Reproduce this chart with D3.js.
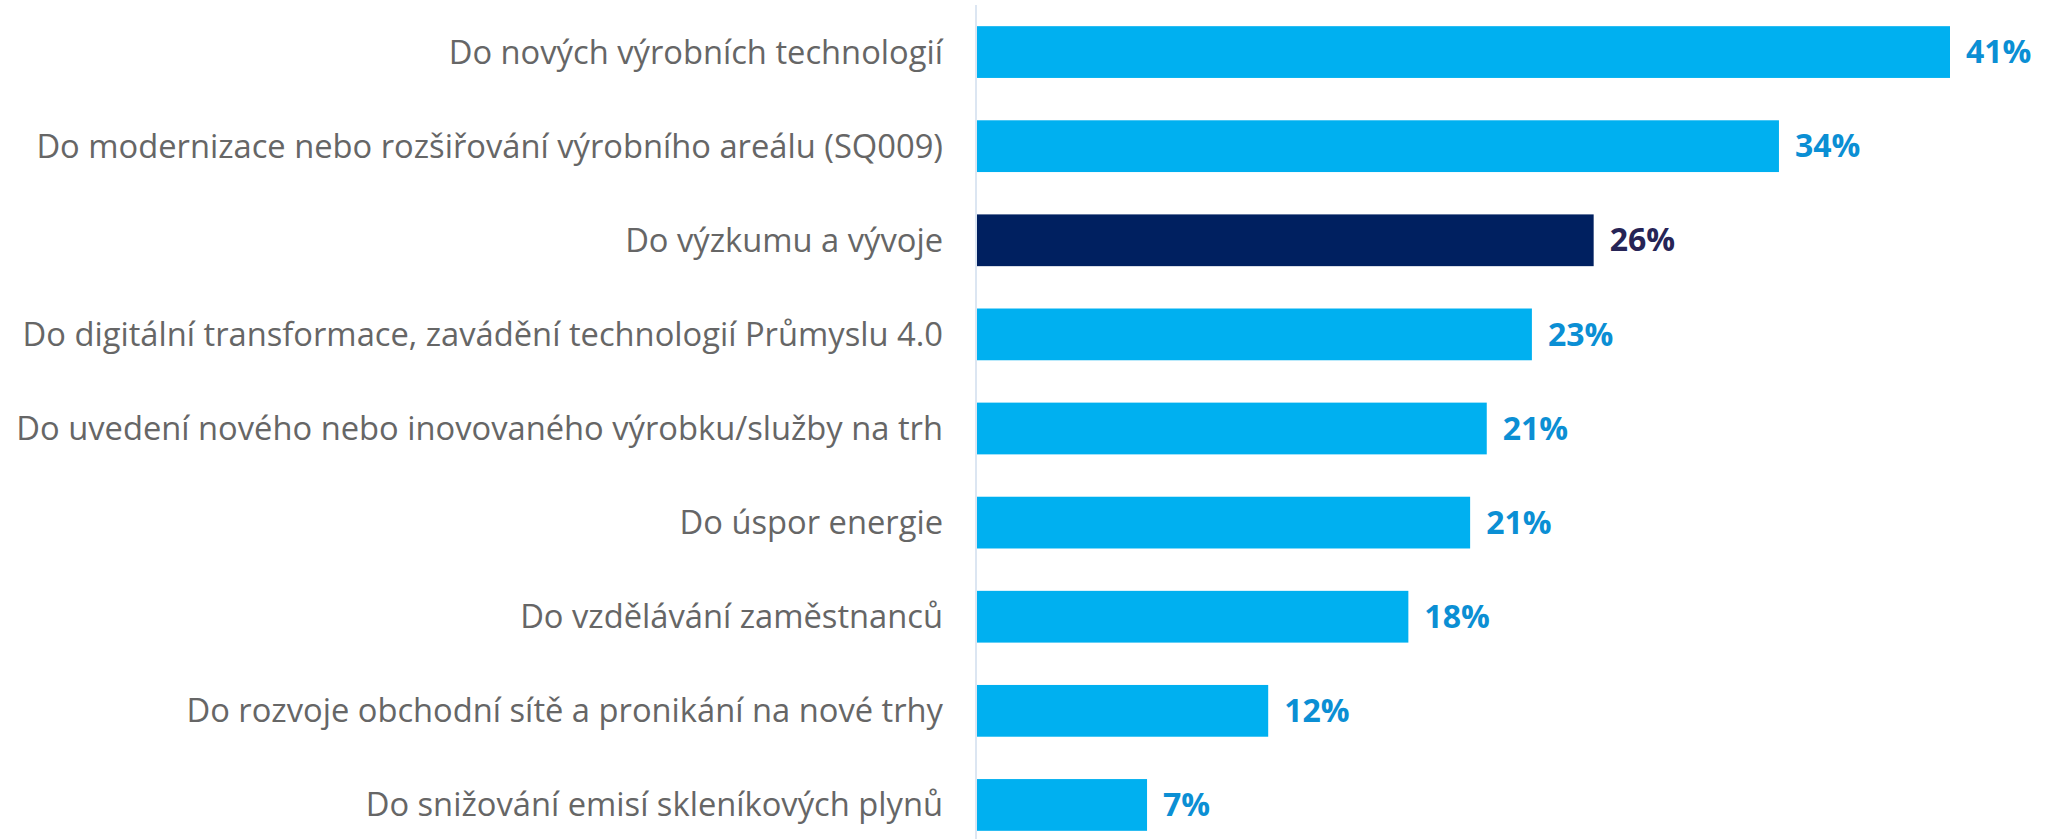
<!DOCTYPE html>
<html>
<head>
<meta charset="utf-8">
<script src="https://cdn.jsdelivr.net/npm/d3@7"></script>
<style>
    body { margin: 0; background: #fff; }
    .cat-label { font-family: "Open Sans", sans-serif; fill: #666666; }
    .val-label { font-family: "Open Sans", sans-serif; font-weight: bold; }
</style>
</head>
<body>
<div id="chart"></div>
<script>
// categories, top to bottom
let categories = [
    "Do nových výrobních technologií",
    "Do modernizace nebo rozšiřování výrobního areálu (SQ009)",
    "Do výzkumu a vývoje",
    "Do digitální transformace, zavádění technologií Průmyslu 4.0",
    "Do uvedení nového nebo inovovaného výrobku/služby na trh",
    "Do úspor energie",
    "Do vzdělávání zaměstnanců",
    "Do rozvoje obchodní sítě a pronikání na nové trhy",
    "Do snižování emisí skleníkových plynů"
];
// share of companies (%)
let values = [41, 33.8, 26, 23.4, 21.5, 20.8, 18.2, 12.3, 7.2];
let valueLabels = ["41%", "34%", "26%", "23%", "21%", "21%", "18%", "12%", "7%"];
let highlighted = ["Do výzkumu a vývoje"];

let width = 2049, height = 839;
let axisX = 976;

let svg = d3.select("#chart").append("svg")
    .attr("width", width)
    .attr("height", height);

// scales
let y = d3.scaleBand()
    .domain(categories)
    .range([5, 852])
    .paddingInner(0.45)
    .paddingOuter(0.225);

let x = d3.scaleLinear()
    .domain([0, 41])
    .range([axisX, 1950]);

// bars
svg.selectAll(".bar")
    .data(categories)
    .enter()
    .append("rect")
    .attr("class", "bar")
    .attr("x", x(0))
    .attr("y", d => y(d))
    .attr("width", (d, i) => x(values[i]) - x(0))
    .attr("height", y.bandwidth())
    .attr("fill", d => highlighted.includes(d) ? "#002060" : "#00b0f0");

// axis line
svg.append("line")
    .attr("x1", axisX).attr("x2", axisX)
    .attr("y1", 5).attr("y2", height)
    .attr("stroke", "#dce6f2")
    .attr("stroke-width", 2);

// category labels
svg.selectAll(".cat-label")
    .data(categories)
    .enter()
    .append("text")
    .attr("class", "cat-label")
    .attr("x", axisX - 33)
    .attr("y", d => y(d) + y.bandwidth() / 2)
    .attr("dy", "0.35em")
    .attr("text-anchor", "end")
    .style("font-size", "32.7px")
    .text(d => d);

// value labels
svg.selectAll(".val-label")
    .data(categories)
    .enter()
    .append("text")
    .attr("class", "val-label")
    .attr("x", (d, i) => x(values[i]) + 16)
    .attr("y", d => y(d) + y.bandwidth() / 2)
    .attr("dy", "0.35em")
    .attr("fill", d => highlighted.includes(d) ? "#262456" : "#0b8fd4")
    .style("font-size", "32px")
    .text((d, i) => valueLabels[i]);
</script>
</body>
</html>
